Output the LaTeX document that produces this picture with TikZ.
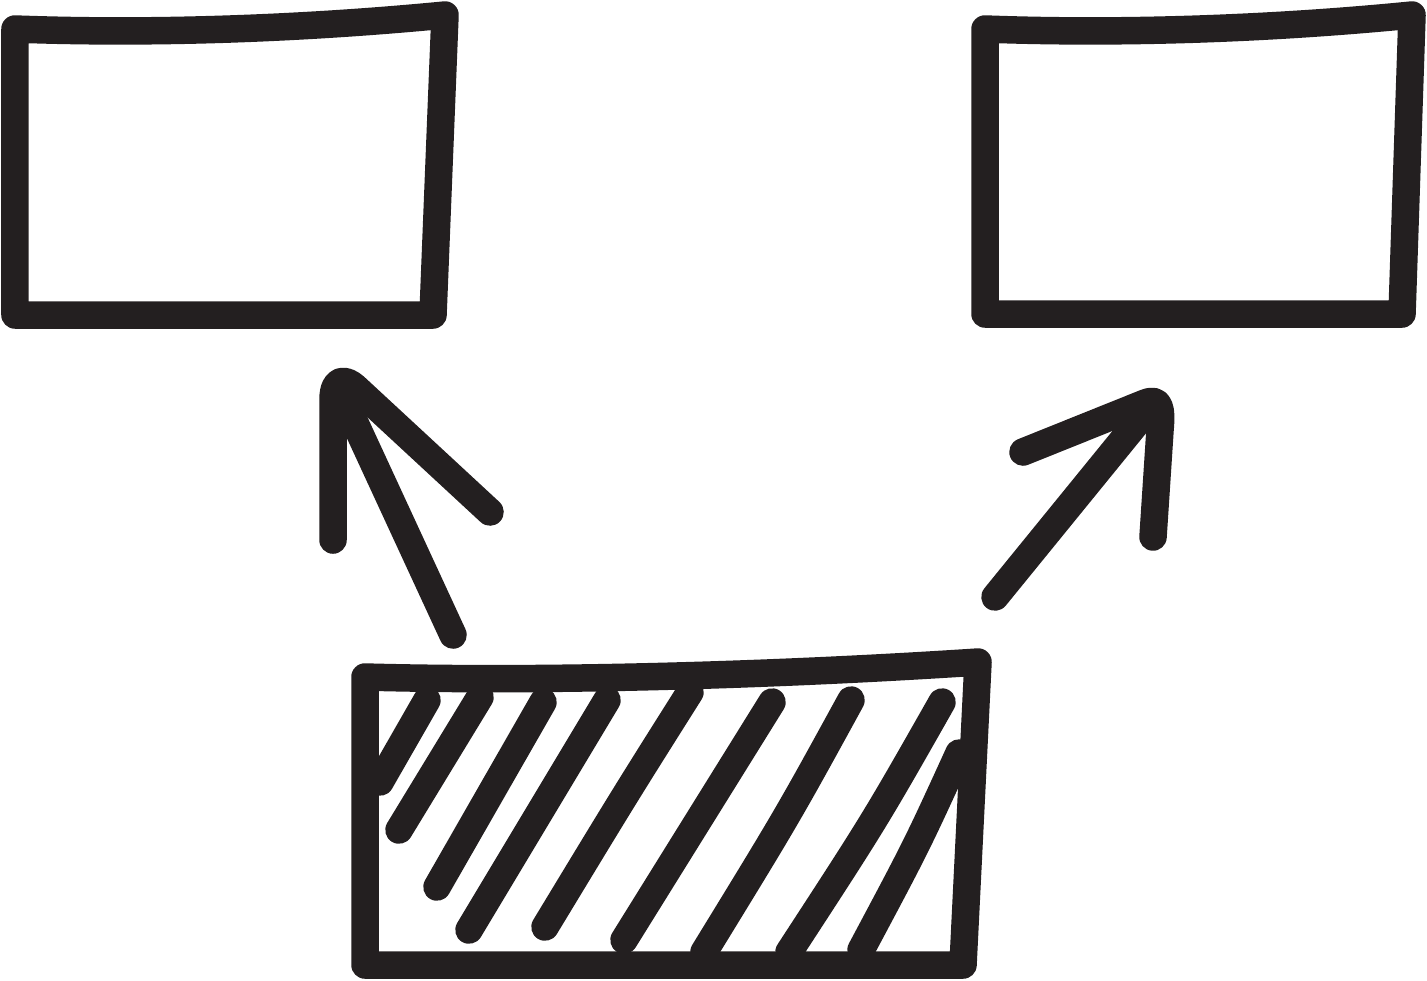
\documentclass[tikz,border=0pt]{standalone}
\usepackage{tikz}
\definecolor{inkgray}{HTML}{231F20}

\begin{document}
\begin{tikzpicture}[ink/.style={line width=2.75mm, color=inkgray, line cap=round, line join=round}]
		%%%%% START %%%%%
		\useasboundingbox (0, 0) rectangle (14.27, -9.80);
		
		% left box
		\draw[ink] (0.15, -0.29) .. controls (1.5, -0.34) and (3.0, -0.29) .. (4.45, -0.15) -- (4.33, -3.15) -- (0.15, -3.15) -- cycle;
		
		% right box
		\draw[ink] (9.85, -0.29) .. controls (11.2, -0.34) and (12.7, -0.29) .. (14.12, -0.15) -- (14.02, -3.14) -- (9.85, -3.14) -- cycle;
		
		% bottom box
		\draw[ink] (3.65, -6.77) .. controls (5.5, -6.82) and (7.8, -6.75) .. (9.78, -6.62) -- (9.63, -9.65) -- (3.65, -9.65) -- cycle;
		
		% hatching
		\draw[ink] (4.27, -7.00) -- (3.80, -7.82);
		\draw[ink] (4.80, -6.97) -- (3.99, -8.30);
		\draw[ink] (5.43, -7.02) -- (4.37, -8.87);
		\draw[ink] (6.07, -7.00) -- (4.69, -9.30);
		\draw[ink] (6.90, -6.92) .. controls (6.25, -7.95) .. (5.45, -9.27);
		\draw[ink] (7.72, -7.02) -- (6.24, -9.40);
		\draw[ink] (8.51, -7.00) .. controls (7.88, -8.15) .. (7.04, -9.52);
		\draw[ink] (9.42, -7.02) .. controls (8.75, -8.20) .. (7.89, -9.52);
		\draw[ink] (9.59, -7.53) .. controls (9.17, -8.45) .. (8.61, -9.50);
		
		% left arrow
		\draw[ink] (4.53, -6.35) -- (3.43, -3.97);
		\draw[ink] (3.33, -5.40) -- (3.33, -4.00) .. controls (3.33, -3.78) and (3.45, -3.78) .. (3.55, -3.87) -- (4.90, -5.12);
		
		% right arrow
		\draw[ink] (9.95, -5.97) -- (11.35, -4.25);
		\draw[ink] (10.23, -4.52) -- (11.45, -4.03) .. controls (11.60, -3.97) and (11.62, -4.08) .. (11.60, -4.30) -- (11.53, -5.37);
		\fill[inkgray] (11.45, -4.10) -- (11.70, -4.20) -- (11.60, -5.20) -- cycle;
		
		%%%%% END %%%%%
	\end{tikzpicture}
\end{document}
